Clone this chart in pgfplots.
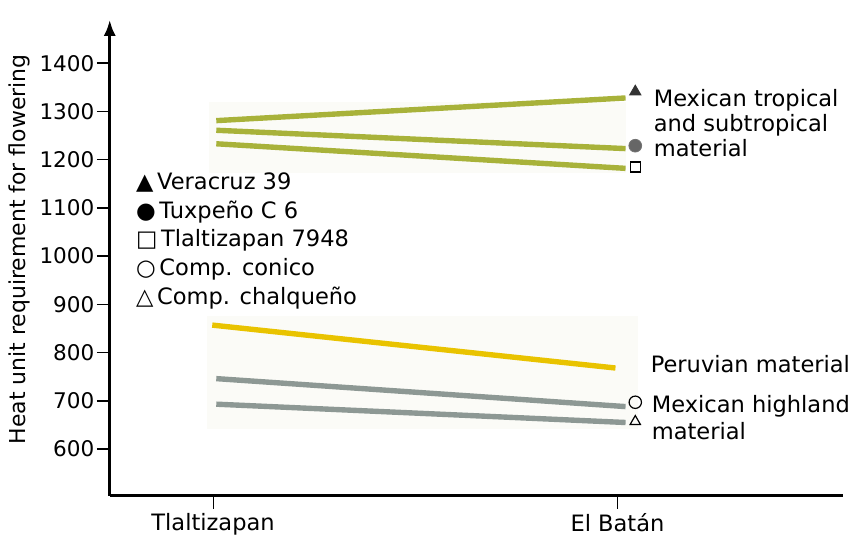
\documentclass[border=0pt]{standalone}
\usepackage{fontspec}
\setmainfont{DejaVu Sans}
\usepackage{pgfplots}
\pgfplotsset{compat=1.18}
\usetikzlibrary{calc,arrows.meta}
\definecolor{olivel}{HTML}{A8B23A}
\definecolor{yell}{HTML}{E9C300}
\definecolor{greyl}{HTML}{8D9894}
\definecolor{bgbox}{HTML}{FBFBF7}
\newcommand{\lbl}{\fontsize{10.8}{12.5}\selectfont}
\newcommand{\txt}{\fontsize{11.3}{13}\selectfont}
\begin{document}
\begin{tikzpicture}
\begin{axis}[
  x=202.7pt, y=0.2417pt,
  xmin=-0.2555, xmax=1.557, ymin=503, ymax=1490,
  axis lines=left,
  axis line style={line width=1.5pt},
  x axis line style={-},
  y axis line style={-{Latex[length=8pt,width=6pt]}},
  xtick={0,1}, xticklabels={Tlaltizapan, El Batán},
  ytick={600,700,...,1400},
  tick align=outside,
  major tick length=6.5pt,
  ytick style={line width=0.8pt, black},
  xtick style={line width=0.5pt, black},
  /pgf/number format/assume math mode=true,
  /pgf/number format/set thousands separator={},
  ticklabel style={font=\lbl},
  yticklabel style={inner sep=1pt},
  xticklabel style={inner sep=2pt, font=\txt},
  clip=false,
]
\coordinate (SW) at (rel axis cs:0,0);
% faint background panels
\fill[bgbox] (axis cs:-0.009,1173) rectangle (axis cs:1.02,1320);
\fill[bgbox] (axis cs:-0.014,641) rectangle (axis cs:1.051,875);
% lines
\addplot[olivel, line width=2.7pt] coordinates {(0.008,1281) (1.02,1328)};
\addplot[olivel, line width=2.7pt] coordinates {(0.008,1261) (1.02,1223)};
\addplot[olivel, line width=2.7pt] coordinates {(0.008,1233) (1.02,1182)};
\addplot[yell, line width=2.7pt] coordinates {(-0.002,857) (0.995,768)};
\addplot[greyl, line width=2.7pt] coordinates {(0.008,746) (1.02,688)};
\addplot[greyl, line width=2.7pt] coordinates {(0.008,693) (1.02,655)};
% markers
\addplot[only marks, mark=triangle*, mark size=3.3pt, black!80, fill=black!80] coordinates {(1.044,1341)};
\addplot[only marks, mark=*, mark size=3.2pt, black!55, fill=black!60] coordinates {(1.044,1229)};
\addplot[only marks, mark=square, mark size=2.5pt, black, line width=0.6pt] coordinates {(1.044,1185)};
\addplot[only marks, mark=o, mark size=3.1pt, black, line width=0.6pt] coordinates {(1.044,697)};
\addplot[only marks, mark=triangle, mark size=3pt, black, line width=0.6pt] coordinates {(1.044,657)};
% legend
\node[anchor=base west, font=\txt, inner sep=0pt] at (axis cs:-0.1914,1138) {▲\,Veracruz 39};
\node[anchor=base west, font=\txt, inner sep=0pt] at (axis cs:-0.1914,1078.5) {●\,Tuxpeño C 6};
\node[anchor=base west, font=\txt, inner sep=0pt] at (axis cs:-0.1914,1019) {□\,Tlaltizapan 7948};
\node[anchor=base west, font=\txt, inner sep=0pt] at (axis cs:-0.1914,959.5) {○\,Comp. conico};
\node[anchor=base west, font=\txt, inner sep=0pt] at (axis cs:-0.1914,900) {△\,Comp. chalqueño};
% group labels
\node[anchor=base west, font=\txt, inner sep=0pt] at (axis cs:1.0888,1309.6) {Mexican tropical};
\node[anchor=base west, font=\txt, inner sep=0pt] at (axis cs:1.0888,1257.9) {and subtropical};
\node[anchor=base west, font=\txt, inner sep=0pt] at (axis cs:1.0888,1206.2) {material};
\node[anchor=base west, font=\txt, inner sep=0pt] at (axis cs:1.0814,759.3) {Peruvian material};
\node[anchor=base west, font=\txt, inner sep=0pt] at (axis cs:1.0839,676.6) {Mexican highland};
\node[anchor=base west, font=\txt, inner sep=0pt] at (axis cs:1.0839,620.7) {material};
% y label
\node[rotate=90, font=\fontsize{11}{13}\selectfont, inner sep=0pt] at (axis cs:-0.4776,1014) {Heat unit requirement for flowering};
\end{axis}
\path[use as bounding box] ($(SW)+(-55pt,-20pt)$) rectangle ($(SW)+(370pt,248.5pt)$);
\end{tikzpicture}
\end{document}
